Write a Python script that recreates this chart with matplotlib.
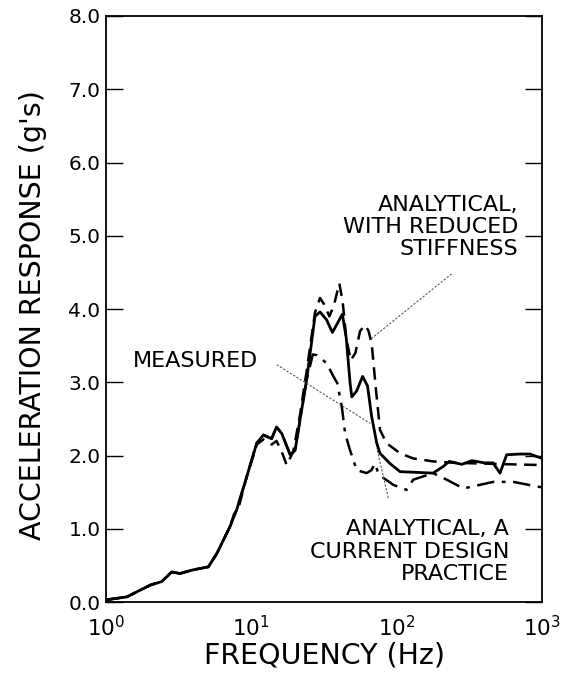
import matplotlib
matplotlib.use("Agg")
import matplotlib.pyplot as plt

plt.rcParams['font.family'] = ['DejaVu Sans']
plt.rcParams['mathtext.fontset'] = 'dejavusans'

# ---- data ----
meas_f = [1, 1.39, 2.01, 2.42, 2.83, 3.23, 3.99, 5.06, 5.78, 7.13, 7.93, 9.29, 10.9, 12.1,
          13.8, 14.9, 16.2, 18.5, 20, 21.6, 24.0, 27.4, 29.7, 33.0, 36.1, 39, 42.3, 45,
          47.8, 49.1, 53, 58.3, 63, 67.3, 72.9, 76.8, 90, 105.5, 178, 209, 230, 280, 330,
          400, 460, 514, 571, 700, 827, 1000]
meas_v = [0.03, 0.07, 0.23, 0.28, 0.41, 0.39, 0.44, 0.48, 0.66, 1.03, 1.26, 1.71, 2.17, 2.28,
          2.23, 2.39, 2.30, 2.01, 2.07, 2.48, 3.03, 3.90, 3.96, 3.85, 3.68, 3.80, 3.93, 3.60,
          2.99, 2.80, 2.88, 3.08, 2.95, 2.53, 2.17, 2.03, 1.89, 1.78, 1.76, 1.85, 1.92, 1.88, 1.93,
          1.90, 1.90, 1.76, 2.01, 2.02, 2.02, 1.96]

red_f = [1, 1.39, 2.01, 2.42, 2.83, 3.23, 3.99, 5.06, 5.78, 7.13, 7.6, 8.2, 9.29, 10.9, 12.1,
         13.8, 14.9, 16.2, 17.5, 19.4, 21.6, 24.0, 27.4, 29.7, 32, 34.4, 37, 40.3, 42.5, 45,
         48.3, 52, 56, 60.6, 64, 67.3, 72, 76.8, 85, 94.8, 105.5, 130, 178, 250, 400, 600, 1000]
red_v = [0.03, 0.07, 0.23, 0.28, 0.41, 0.39, 0.44, 0.48, 0.66, 1.03, 1.20, 1.30, 1.71, 2.15, 2.22,
         2.15, 2.20, 2.05, 1.87, 2.05, 2.55, 3.15, 3.95, 4.15, 4.05, 3.90, 4.05, 4.35, 4.10, 3.60,
         3.30, 3.40, 3.70, 3.78, 3.70, 3.53, 2.90, 2.35, 2.17, 2.10, 2.03, 1.96, 1.92, 1.90, 1.89, 1.88, 1.87]

cur_f = [1, 1.39, 2.01, 2.42, 2.83, 3.23, 3.99, 5.06, 5.78, 7.13, 7.93, 9.29, 10.9, 12.1,
         13.8, 14.9, 16.2, 18.5, 20, 21.6, 24.0, 26.5, 28.2, 33, 36.7, 39.0, 41.9, 44.2, 47.8,
         53.1, 62.2, 67, 71, 74, 78.9, 94.8, 117, 130, 178, 221, 288, 374, 462, 635, 969, 1000]
cur_v = [0.03, 0.07, 0.23, 0.28, 0.41, 0.39, 0.44, 0.48, 0.66, 1.03, 1.26, 1.71, 2.17, 2.28,
         2.23, 2.39, 2.30, 2.01, 2.07, 2.48, 3.03, 3.38, 3.37, 3.26, 3.08, 2.99, 2.67, 2.30, 2.07,
         1.80, 1.76, 1.80, 1.89, 1.78, 1.71, 1.60, 1.53, 1.67, 1.76, 1.67, 1.55, 1.60, 1.64, 1.64, 1.57, 1.57]

y_ticks = [0, 1, 2, 3, 4, 5, 6, 7, 8]
y_ticklabels = ['0.0', '1.0', '2.0', '3.0', '4.0', '5.0', '6.0', '7.0', '8.0']
x_ticks = [1, 10, 100, 1000]
x_ticklabels = [r'$10^{0}$', r'$10^{1}$', r'$10^{2}$', r'$10^{3}$']

fig = plt.figure(figsize=(5.63, 6.75), dpi=100)
ax = fig.add_axes([0.1883, 0.1081, 0.7744, 0.8682])

ax.plot(cur_f, cur_v, color='black', lw=1.8, ls=(0, (7, 3, 1.5, 3)))
ax.plot(red_f, red_v, color='black', lw=1.8, ls=(0, (5, 3)))
ax.plot(meas_f, meas_v, color='black', lw=2.0, ls='-')

ax.set_xscale('log')
ax.set_xlim(1, 1000)
ax.set_ylim(0, 8)
ax.set_xticks(x_ticks)
ax.set_xticklabels(x_ticklabels, fontsize=15.5)
ax.minorticks_off()
ax.set_yticks(y_ticks)
ax.set_yticklabels(y_ticklabels, fontsize=14.5)
ax.tick_params(axis='y', direction='in', length=12, width=1, left=True, right=True, pad=4)
ax.tick_params(axis='x', direction='in', length=0, pad=9)
for s in ax.spines.values():
    s.set_linewidth(1.3)

ax.set_xlabel('FREQUENCY (Hz)', fontsize=20.5, labelpad=1)
ax.set_ylabel("ACCELERATION RESPONSE (g's)", fontsize=20.5, labelpad=6)
ax.yaxis.set_label_coords(-0.135, 0.49)

# annotations
ax.text(684, 5.12, 'ANALYTICAL,\nWITH REDUCED\nSTIFFNESS', ha='right', va='center',
        multialignment='right', fontsize=16, linespacing=1.15)
ax.plot([239, 67.3], [4.48, 3.60], color='#555555', lw=0.8, ls=(0, (2, 1.5)))

ax.text(1.53, 3.29, 'MEASURED', ha='left', va='center', fontsize=16)
ax.plot([14.95, 65.6], [3.24, 2.44], color='#555555', lw=0.8, ls=(0, (2, 1.5)))

ax.text(593, 0.687, 'ANALYTICAL, A\nCURRENT DESIGN\nPRACTICE', ha='right', va='center',
        multialignment='right', fontsize=16, linespacing=1.15)
ax.plot([87.6, 72.9], [1.42, 2.10], color='#555555', lw=0.8, ls=(0, (2, 1.5)))

fig.savefig('out.png', dpi=100)
